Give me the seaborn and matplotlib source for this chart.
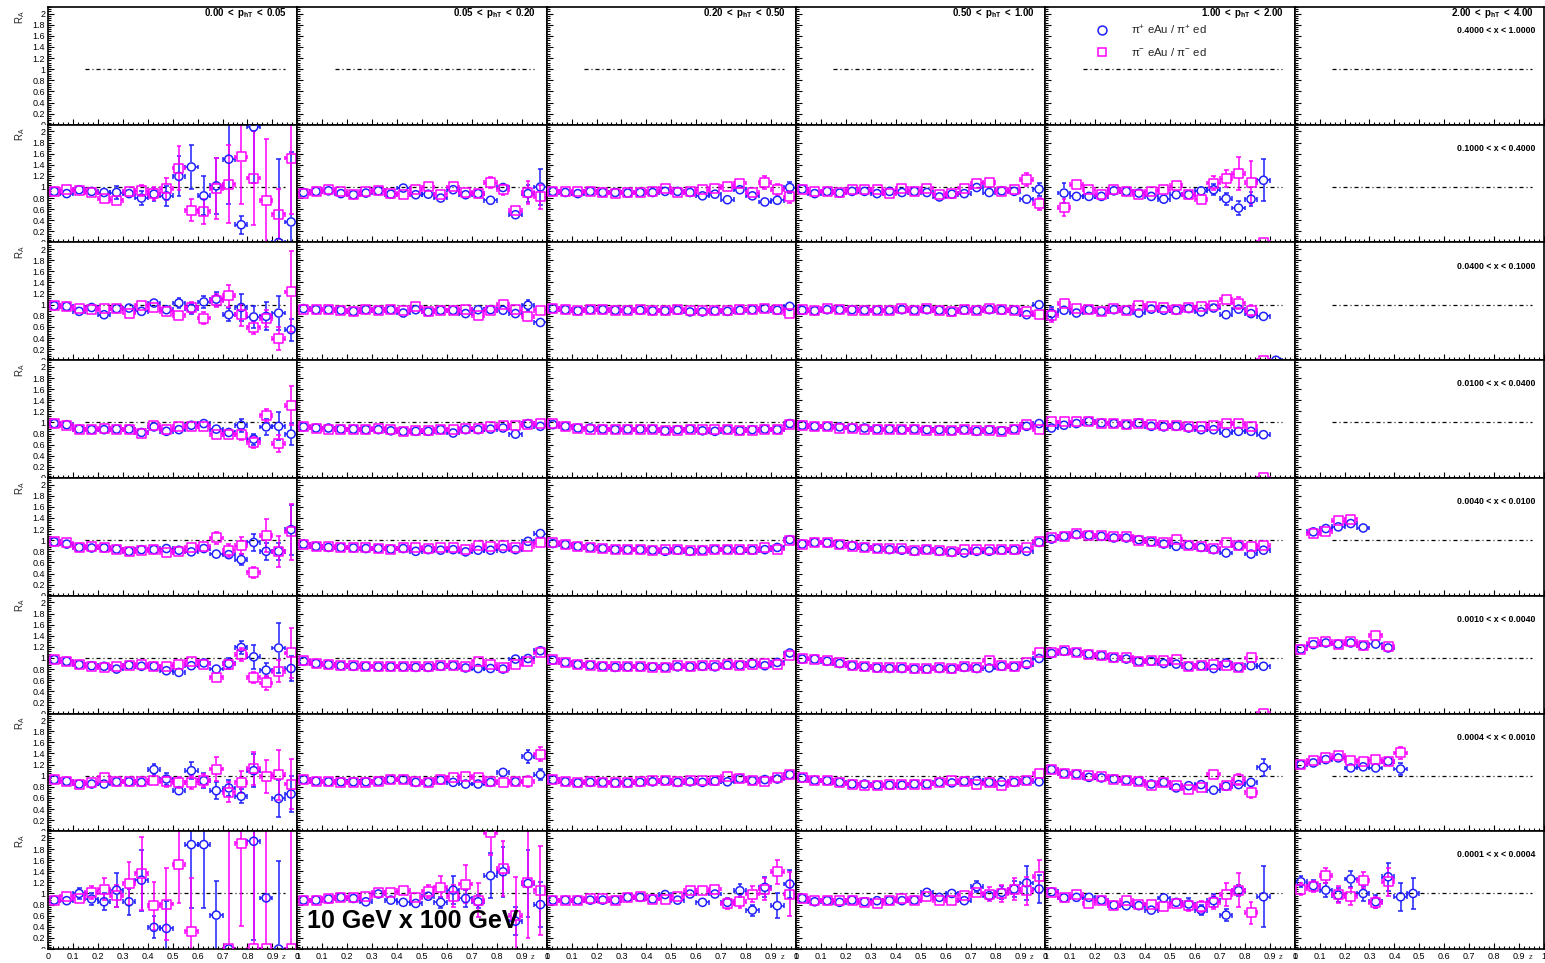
import numpy as np
import pandas as pd
import matplotlib
matplotlib.use("Agg")
import matplotlib.pyplot as plt
import seaborn as sns
from matplotlib.collections import LineCollection
from matplotlib.lines import Line2D
from matplotlib.ticker import MultipleLocator, AutoMinorLocator, FuncFormatter
from matplotlib.transforms import Bbox, TransformedBbox

nan = np.nan

# ---------------------------------------------------------------- binning
z_centers = [0.025, 0.075, 0.125, 0.175, 0.225, 0.275, 0.325, 0.375, 0.425, 0.475,
             0.525, 0.575, 0.625, 0.675, 0.725, 0.775, 0.825, 0.875, 0.925, 0.975]
z_half_width = 0.025

pt_bins = [r"$\mathbf{0.00\ <\ p_{hT}\ <\ 0.05}$", r"$\mathbf{0.05\ <\ p_{hT}\ <\ 0.20}$",
           r"$\mathbf{0.20\ <\ p_{hT}\ <\ 0.50}$", r"$\mathbf{0.50\ <\ p_{hT}\ <\ 1.00}$",
           r"$\mathbf{1.00\ <\ p_{hT}\ <\ 2.00}$", r"$\mathbf{2.00\ <\ p_{hT}\ <\ 4.00}$"]
x_bins = ["0.4000 < x < 1.0000", "0.1000 < x < 0.4000", "0.0400 < x < 0.1000",
          "0.0100 < x < 0.0400", "0.0040 < x < 0.0100", "0.0010 < x < 0.0040",
          "0.0004 < x < 0.0010", "0.0001 < x < 0.0004"]

series_labels = [r"π$^{+}$ eAu / π$^{+}$ ed", r"π$^{-}$ eAu / π$^{-}$ ed"]
beam_label = "10 GeV x 100 GeV"

# ---------------------------------------------------------------- R_A(z), x bin 2 (0.1 < x < 0.4)
pip_x2_pt1 = [0.92, 0.88, 0.95, 0.92, 0.90, 0.90, 0.88, 0.80, 0.87, 0.84, 1.19, 1.36, 0.84, 1.02, 1.50, 0.32, 2.08, nan, 0.00, 0.37]
pip_x2_pt1_err = [0.03, 0.03, 0.04, 0.04, 0.05, 0.12, 0.08, 0.12, 0.12, 0.18, 0.36, 0.40, 0.35, 0.50, 0.80, 0.16, 1.00, nan, 1.50, 1.26]
pim_x2_pt1 = [0.92, 0.95, 0.93, 0.90, 0.79, 0.76, 0.92, 0.93, 0.88, 0.97, 1.34, 0.58, 0.56, 0.97, 1.05, 1.54, 1.16, 0.76, 0.51, 1.52]
pim_x2_pt1_err = [0.03, 0.03, 0.03, 0.04, 0.05, 0.07, 0.06, 0.10, 0.12, 0.20, 0.40, 0.20, 0.22, 0.55, 0.70, 0.85, 0.85, 1.10, 0.45, 1.00]

pip_x2_pt2 = [0.90, 0.92, 0.93, 0.88, 0.86, 0.89, 0.93, 0.87, 0.98, 0.86, 0.87, 0.80, 0.95, 0.86, 0.88, 0.76, 0.99, 0.50, 0.88, 1.00]
pip_x2_pt2_err = [0.02, 0.02, 0.02, 0.02, 0.02, 0.03, 0.03, 0.03, 0.04, 0.04, 0.04, 0.05, 0.05, 0.05, 0.06, 0.06, 0.08, 0.05, 0.15, 0.33]
pim_x2_pt2 = [0.88, 0.92, 0.95, 0.92, 0.87, 0.92, 0.93, 0.88, 0.87, 0.95, 1.00, 0.87, 1.00, 0.90, 0.88, 1.08, 0.96, 0.57, 0.90, 0.82]
pim_x2_pt2_err = [0.02, 0.02, 0.02, 0.02, 0.02, 0.03, 0.03, 0.03, 0.04, 0.04, 0.04, 0.05, 0.05, 0.05, 0.06, 0.10, 0.10, 0.08, 0.20, 0.22]

pip_x2_pt3 = [0.92, 0.90, 0.88, 0.92, 0.90, 0.90, 0.89, 0.90, 0.90, 0.92, 0.92, 0.90, 0.84, 0.87, 0.77, 0.95, 0.84, 0.73, 0.76, 0.99]
pip_x2_pt3_err = [0.02, 0.02, 0.02, 0.02, 0.02, 0.02, 0.02, 0.02, 0.02, 0.03, 0.03, 0.03, 0.03, 0.04, 0.04, 0.04, 0.05, 0.05, 0.05, 0.10]
pim_x2_pt3 = [0.92, 0.92, 0.92, 0.92, 0.90, 0.89, 0.90, 0.90, 0.92, 0.98, 0.90, 0.92, 0.95, 0.98, 1.01, 1.07, 0.90, 1.08, 0.95, 0.82]
pim_x2_pt3_err = [0.02, 0.02, 0.02, 0.02, 0.02, 0.02, 0.02, 0.02, 0.02, 0.03, 0.03, 0.03, 0.03, 0.04, 0.04, 0.05, 0.05, 0.12, 0.11, 0.11]

pip_x2_pt4 = [0.96, 0.88, 0.92, 0.89, 0.92, 0.92, 0.88, 0.92, 0.90, 0.92, 0.90, 0.82, 0.87, 0.88, 0.99, 0.90, 0.93, 0.92, 0.78, 0.96]
pip_x2_pt4_err = [0.02, 0.02, 0.02, 0.02, 0.02, 0.02, 0.02, 0.02, 0.02, 0.03, 0.03, 0.03, 0.03, 0.04, 0.04, 0.04, 0.05, 0.05, 0.06, 0.12]
pim_x2_pt4 = [0.95, 0.92, 0.92, 0.90, 0.96, 0.95, 0.95, 0.88, 0.98, 0.92, 0.98, 0.87, 0.88, 0.98, 1.07, 1.08, 0.92, 0.95, 1.13, 0.70]
pim_x2_pt4_err = [0.02, 0.02, 0.02, 0.02, 0.02, 0.02, 0.02, 0.02, 0.02, 0.03, 0.03, 0.03, 0.03, 0.04, 0.04, 0.05, 0.05, 0.05, 0.12, 0.11]

pip_x2_pt5 = [nan, 0.89, 0.83, 0.83, 0.83, 0.93, 0.92, 0.89, 0.83, 0.78, 0.86, 0.86, 0.93, 0.95, 0.79, 0.62, 0.78, 1.12]
pip_x2_pt5_err = [nan, 0.18, 0.03, 0.03, 0.03, 0.03, 0.03, 0.03, 0.03, 0.03, 0.04, 0.04, 0.08, 0.10, 0.11, 0.12, 0.13, 0.38]
pim_x2_pt5 = [nan, 0.63, 1.04, 0.95, 0.87, 0.96, 0.92, 0.87, 0.92, 0.95, 1.02, 0.86, 0.78, 1.07, 1.15, 1.24, 1.08, 0.00]
pim_x2_pt5_err = [nan, 0.15, 0.05, 0.03, 0.03, 0.03, 0.03, 0.03, 0.03, 0.03, 0.04, 0.05, 0.08, 0.12, 0.15, 0.30, 0.38, 0.00]

# ---------------------------------------------------------------- x bin 3 (0.04 < x < 0.1)
pip_x3_pt1 = [0.98, 0.97, 0.88, 0.95, 0.82, 0.93, 0.94, 0.88, 1.03, 0.91, 1.03, 0.93, 1.05, 1.10, 0.82, 0.95, 0.78, 0.79, 0.85, 0.55]
pip_x3_pt1_err = [0.02, 0.02, 0.03, 0.03, 0.03, 0.03, 0.04, 0.04, 0.05, 0.05, 0.09, 0.09, 0.11, 0.12, 0.12, 0.25, 0.20, 0.25, 0.30, 0.20]
pim_x3_pt1 = [0.98, 0.96, 0.93, 0.91, 0.93, 0.93, 0.85, 0.99, 0.95, 0.88, 0.81, 0.95, 0.76, 1.08, 1.16, 0.82, 0.59, 0.75, 0.39, 1.23]
pim_x3_pt1_err = [0.02, 0.02, 0.03, 0.03, 0.03, 0.03, 0.04, 0.04, 0.05, 0.05, 0.05, 0.10, 0.10, 0.12, 0.20, 0.20, 0.12, 0.15, 0.20, 0.73]

pip_x3_pt2 = [0.93, 0.91, 0.91, 0.90, 0.88, 0.91, 0.90, 0.91, 0.85, 0.91, 0.87, 0.90, 0.90, 0.84, 0.91, 0.91, 0.90, 0.84, 0.99, 0.68]
pim_x3_pt2 = [0.92, 0.91, 0.91, 0.90, 0.88, 0.92, 0.90, 0.91, 0.90, 0.96, 0.87, 0.90, 0.90, 0.91, 0.81, 0.90, 1.00, 0.91, 0.79, 0.90]
pip_x3_pt2_err = [0.02, 0.02, 0.02, 0.02, 0.02, 0.02, 0.02, 0.02, 0.02, 0.02, 0.03, 0.03, 0.03, 0.03, 0.03, 0.04, 0.04, 0.05, 0.10, 0.05]

pip_x3_pt3 = [0.93, 0.91, 0.89, 0.91, 0.91, 0.90, 0.90, 0.90, 0.89, 0.89, 0.90, 0.87, 0.87, 0.89, 0.88, 0.90, 0.91, 0.93, 0.90, 0.97]
pim_x3_pt3 = [0.93, 0.91, 0.90, 0.91, 0.91, 0.90, 0.90, 0.91, 0.90, 0.90, 0.91, 0.89, 0.89, 0.90, 0.90, 0.91, 0.91, 0.93, 0.91, 0.84]

pip_x3_pt4 = [0.90, 0.89, 0.91, 0.91, 0.91, 0.90, 0.90, 0.90, 0.91, 0.90, 0.91, 0.90, 0.87, 0.90, 0.90, 0.91, 0.90, 0.90, 0.82, 1.00]
pim_x3_pt4 = [0.91, 0.89, 0.93, 0.91, 0.90, 0.90, 0.90, 0.90, 0.93, 0.90, 0.93, 0.89, 0.87, 0.91, 0.90, 0.93, 0.91, 0.90, 0.87, 0.82]

pip_x3_pt5 = [0.84, 0.90, 0.85, 0.91, 0.88, 0.91, 0.90, 0.85, 0.92, 0.90, 0.90, 0.93, 0.87, 0.94, 0.82, 0.92, 0.84, 0.79, 0.00]
pip_x3_pt5_err = [0.12, 0.03, 0.02, 0.02, 0.02, 0.02, 0.02, 0.02, 0.02, 0.02, 0.02, 0.03, 0.03, 0.03, 0.04, 0.04, 0.04, 0.05, 0.00]
pim_x3_pt5 = [0.81, 1.02, 0.93, 0.91, 0.87, 0.94, 0.90, 0.99, 0.96, 0.95, 0.91, 0.95, 0.96, 0.99, 1.10, 1.03, 0.90, 0.00]
pim_x3_pt5_err = [0.12, 0.03, 0.02, 0.02, 0.02, 0.02, 0.02, 0.02, 0.02, 0.02, 0.02, 0.03, 0.03, 0.03, 0.04, 0.10, 0.10, 0.00]

# ---------------------------------------------------------------- x bin 4 (0.01 < x < 0.04)
pip_x4_pt1 = [0.98, 0.96, 0.88, 0.87, 0.87, 0.88, 0.88, 0.82, 0.92, 0.84, 0.87, 0.95, 0.98, 0.88, 0.82, 0.95, 0.70, 0.92, 0.93, 0.79]
pip_x4_pt1_err = [0.02, 0.02, 0.02, 0.03, 0.03, 0.03, 0.03, 0.04, 0.04, 0.04, 0.04, 0.05, 0.05, 0.06, 0.07, 0.12, 0.10, 0.15, 0.25, 0.20]
pim_x4_pt1 = [0.99, 0.95, 0.88, 0.88, 0.90, 0.88, 0.87, 0.81, 0.95, 0.88, 0.93, 0.93, 0.93, 0.79, 0.79, 0.79, 0.64, 1.13, 0.62, 1.30]
pim_x4_pt1_err = [0.02, 0.02, 0.02, 0.03, 0.03, 0.03, 0.03, 0.04, 0.04, 0.04, 0.04, 0.05, 0.05, 0.06, 0.06, 0.10, 0.10, 0.12, 0.15, 0.35]

pip_x4_pt2 = [0.92, 0.90, 0.90, 0.88, 0.88, 0.87, 0.87, 0.85, 0.84, 0.84, 0.84, 0.87, 0.81, 0.87, 0.87, 0.88, 0.90, 0.79, 0.98, 0.93]
pim_x4_pt2 = [0.93, 0.90, 0.88, 0.88, 0.88, 0.88, 0.90, 0.88, 0.84, 0.85, 0.85, 0.87, 0.88, 0.90, 0.90, 0.93, 0.95, 0.95, 0.96, 0.98]

pip_x4_pt3 = [0.96, 0.93, 0.90, 0.90, 0.88, 0.87, 0.88, 0.88, 0.88, 0.85, 0.87, 0.88, 0.85, 0.84, 0.87, 0.85, 0.87, 0.88, 0.87, 0.98]
pim_x4_pt3 = [0.98, 0.93, 0.90, 0.88, 0.88, 0.87, 0.88, 0.88, 0.87, 0.85, 0.85, 0.87, 0.87, 0.87, 0.87, 0.85, 0.85, 0.87, 0.88, 0.96]

pip_x4_pt4 = [0.95, 0.93, 0.93, 0.92, 0.90, 0.90, 0.88, 0.88, 0.87, 0.88, 0.87, 0.87, 0.85, 0.87, 0.84, 0.87, 0.85, 0.88, 0.93, 0.98]
pim_x4_pt4 = [0.95, 0.93, 0.92, 0.90, 0.90, 0.88, 0.88, 0.87, 0.87, 0.88, 0.85, 0.85, 0.85, 0.87, 0.85, 0.85, 0.84, 0.87, 0.96, 0.87]

pip_x4_pt5 = [0.90, 0.95, 0.98, 1.02, 0.99, 0.98, 0.96, 0.99, 0.93, 0.92, 0.93, 0.90, 0.87, 0.87, 0.81, 0.84, 0.84, 0.78]
pim_x4_pt5 = [1.01, 1.01, 1.01, 1.01, 0.99, 0.98, 0.96, 0.99, 0.96, 0.95, 0.95, 0.92, 0.92, 0.95, 0.98, 0.98, 0.93, 0.00]

# ---------------------------------------------------------------- x bin 5 (0.004 < x < 0.01)
pip_x5_pt1 = [0.97, 0.93, 0.87, 0.86, 0.86, 0.84, 0.80, 0.83, 0.83, 0.85, 0.82, 0.79, 0.85, 0.75, 0.74, 0.65, 0.96, 0.80, 0.80, 1.19]
pip_x5_pt1_err = [0.02, 0.02, 0.02, 0.03, 0.03, 0.03, 0.03, 0.04, 0.04, 0.04, 0.04, 0.05, 0.05, 0.06, 0.08, 0.10, 0.15, 0.15, 0.15, 0.45]
pim_x5_pt1 = [0.98, 0.95, 0.87, 0.89, 0.87, 0.83, 0.80, 0.82, 0.83, 0.78, 0.80, 0.87, 0.89, 1.04, 0.82, 0.90, 0.42, 1.08, 0.80, 1.15]
pim_x5_pt1_err = [0.02, 0.02, 0.02, 0.03, 0.03, 0.03, 0.03, 0.04, 0.04, 0.04, 0.04, 0.05, 0.05, 0.11, 0.12, 0.15, 0.10, 0.30, 0.28, 0.50]

pip_x5_pt2 = [0.93, 0.89, 0.87, 0.87, 0.86, 0.85, 0.85, 0.84, 0.85, 0.80, 0.83, 0.82, 0.83, 0.79, 0.82, 0.82, 0.85, 0.83, 0.98, 1.12]
pim_x5_pt2 = [0.93, 0.89, 0.88, 0.87, 0.86, 0.86, 0.85, 0.84, 0.86, 0.87, 0.85, 0.86, 0.86, 0.83, 0.90, 0.89, 0.90, 0.86, 0.89, 0.95]

pip_x5_pt3 = [0.94, 0.92, 0.89, 0.87, 0.85, 0.83, 0.83, 0.83, 0.82, 0.80, 0.82, 0.80, 0.82, 0.83, 0.83, 0.82, 0.82, 0.83, 0.87, 1.01]
pim_x5_pt3 = [0.96, 0.93, 0.89, 0.87, 0.85, 0.83, 0.83, 0.83, 0.82, 0.84, 0.84, 0.82, 0.82, 0.83, 0.83, 0.84, 0.83, 0.86, 0.84, 1.00]

pip_x5_pt4 = [0.93, 0.96, 0.95, 0.92, 0.90, 0.87, 0.85, 0.83, 0.82, 0.80, 0.83, 0.80, 0.78, 0.77, 0.80, 0.80, 0.82, 0.82, 0.80, 0.96]
pim_x5_pt4 = [0.93, 0.96, 0.95, 0.92, 0.89, 0.87, 0.85, 0.85, 0.85, 0.82, 0.83, 0.82, 0.80, 0.84, 0.84, 0.84, 0.84, 0.84, 0.87, 0.98]

pip_x5_pt5 = [1.02, 1.07, 1.10, 1.09, 1.07, 1.04, 1.04, 1.01, 0.97, 0.93, 0.89, 0.91, 0.87, 0.83, 0.77, 0.90, 0.75, 0.82]
pim_x5_pt5 = [1.04, 1.07, 1.12, 1.09, 1.09, 1.07, 1.07, 0.99, 0.97, 0.96, 1.01, 0.91, 0.88, 0.85, 0.96, 0.91, 0.89, 0.90]

pip_x5_pt6 = [nan, 1.15, 1.21, 1.24, 1.30, 1.22]
pim_x5_pt6 = [nan, 1.12, 1.16, 1.35, 1.38]

# ---------------------------------------------------------------- x bin 6 (0.001 < x < 0.004)
pip_x6_pt1 = [0.97, 0.94, 0.88, 0.86, 0.85, 0.80, 0.87, 0.85, 0.85, 0.77, 0.74, 0.86, 0.91, 0.80, 0.90, 1.19, 1.02, 0.78, 1.18, 0.81]
pip_x6_pt1_err = [0.02, 0.02, 0.02, 0.03, 0.03, 0.03, 0.03, 0.04, 0.04, 0.04, 0.04, 0.05, 0.05, 0.06, 0.10, 0.12, 0.22, 0.13, 0.45, 0.22]
pim_x6_pt1 = [0.97, 0.94, 0.88, 0.85, 0.83, 0.85, 0.86, 0.89, 0.85, 0.85, 0.88, 0.94, 0.89, 0.65, 0.89, 1.06, 0.65, 0.55, 0.76, 1.09]
pim_x6_pt1_err = [0.02, 0.02, 0.02, 0.03, 0.03, 0.03, 0.03, 0.04, 0.04, 0.04, 0.04, 0.05, 0.05, 0.05, 0.07, 0.12, 0.10, 0.12, 0.20, 0.45]

pip_x6_pt2 = [0.94, 0.90, 0.88, 0.86, 0.85, 0.85, 0.84, 0.84, 0.84, 0.83, 0.83, 0.85, 0.86, 0.82, 0.81, 0.81, 0.80, 0.98, 0.99, 1.13]
pim_x6_pt2 = [0.95, 0.90, 0.88, 0.87, 0.86, 0.85, 0.85, 0.85, 0.85, 0.84, 0.85, 0.86, 0.86, 0.84, 0.94, 0.88, 0.83, 0.88, 0.94, 1.09]

pip_x6_pt3 = [0.96, 0.92, 0.88, 0.87, 0.85, 0.83, 0.84, 0.84, 0.84, 0.83, 0.84, 0.84, 0.85, 0.84, 0.87, 0.87, 0.90, 0.86, 0.92, 1.09]
pim_x6_pt3 = [0.98, 0.92, 0.88, 0.86, 0.85, 0.85, 0.84, 0.84, 0.83, 0.83, 0.86, 0.85, 0.86, 0.87, 0.89, 0.86, 0.88, 0.90, 0.89, 1.04]

pip_x6_pt4 = [0.98, 0.98, 0.94, 0.90, 0.86, 0.84, 0.82, 0.81, 0.81, 0.80, 0.80, 0.81, 0.80, 0.83, 0.81, 0.82, 0.85, 0.84, 0.88, 0.99]
pim_x6_pt4 = [0.99, 0.98, 0.95, 0.91, 0.87, 0.85, 0.83, 0.83, 0.83, 0.81, 0.81, 0.83, 0.81, 0.85, 0.83, 0.95, 0.86, 0.85, 0.91, 1.09]

pip_x6_pt5 = [1.08, 1.12, 1.10, 1.07, 1.04, 1.00, 0.98, 0.94, 0.94, 0.90, 0.89, 0.85, 0.86, 0.81, 0.91, 0.83, 0.86, 0.85]
pim_x6_pt5 = [1.09, 1.13, 1.10, 1.07, 1.04, 1.01, 1.01, 0.93, 0.95, 0.95, 0.98, 0.85, 0.87, 0.88, 0.86, 0.83, 1.00, 0.00]

pip_x6_pt6 = [1.16, 1.24, 1.27, 1.25, 1.27, 1.22, 1.25, 1.18]
pim_x6_pt6 = [1.16, 1.27, 1.29, 1.25, 1.29, 1.22, 1.41, 1.21]

# ---------------------------------------------------------------- x bin 7 (0.0004 < x < 0.001)
pip_x7_pt1 = [0.93, 0.90, 0.85, 0.85, 0.85, 0.89, 0.89, 0.88, 1.11, 0.94, 0.73, 1.09, 0.91, 0.73, 0.78, 0.63, 1.09, nan, 0.59, 0.67]
pip_x7_pt1_err = [0.02, 0.02, 0.03, 0.03, 0.03, 0.03, 0.03, 0.04, 0.10, 0.11, 0.06, 0.15, 0.13, 0.15, 0.15, 0.13, 0.30, nan, 0.33, 0.33]
pim_x7_pt1 = [0.93, 0.90, 0.85, 0.88, 0.97, 0.89, 0.89, 0.89, 0.91, 0.89, 0.88, 0.88, 0.91, 1.12, 0.70, 0.88, 1.13, 0.99, 1.02, 0.85]
pim_x7_pt1_err = [0.02, 0.02, 0.03, 0.03, 0.03, 0.03, 0.03, 0.04, 0.05, 0.10, 0.10, 0.12, 0.12, 0.22, 0.18, 0.20, 0.30, 0.30, 0.45, 0.45]

pip_x7_pt2 = [0.93, 0.90, 0.89, 0.89, 0.89, 0.89, 0.90, 0.93, 0.93, 0.88, 0.88, 0.92, 0.88, 0.85, 0.85, 0.88, 1.06, 0.89, 1.35, 1.02]
pip_x7_pt2_err = [0.02, 0.02, 0.02, 0.02, 0.02, 0.02, 0.02, 0.02, 0.02, 0.02, 0.03, 0.03, 0.03, 0.03, 0.04, 0.04, 0.05, 0.05, 0.12, 0.10]
pim_x7_pt2 = [0.93, 0.90, 0.89, 0.88, 0.88, 0.88, 0.90, 0.93, 0.93, 0.89, 0.88, 0.94, 0.97, 0.98, 0.97, 0.90, 0.88, 0.89, 0.90, 1.39]
pim_x7_pt2_err = [0.02, 0.02, 0.02, 0.02, 0.02, 0.02, 0.02, 0.02, 0.02, 0.02, 0.03, 0.03, 0.03, 0.03, 0.04, 0.04, 0.05, 0.05, 0.10, 0.12]

pip_x7_pt3 = [0.93, 0.89, 0.87, 0.88, 0.88, 0.87, 0.87, 0.88, 0.89, 0.91, 0.88, 0.89, 0.88, 0.90, 0.89, 0.95, 0.91, 0.93, 0.94, 1.02]
pim_x7_pt3 = [0.93, 0.89, 0.88, 0.89, 0.88, 0.88, 0.88, 0.89, 0.91, 0.91, 0.89, 0.91, 0.92, 0.92, 0.98, 0.95, 0.91, 0.90, 0.96, 1.03]

pip_x7_pt4 = [0.96, 0.92, 0.91, 0.88, 0.85, 0.85, 0.83, 0.83, 0.83, 0.85, 0.85, 0.88, 0.87, 0.90, 0.91, 0.88, 0.89, 0.88, 0.91, 0.89]
pim_x7_pt4 = [0.97, 0.91, 0.91, 0.87, 0.85, 0.83, 0.82, 0.85, 0.85, 0.85, 0.85, 0.87, 0.91, 0.89, 0.85, 0.87, 0.82, 0.89, 0.92, 1.04]

pip_x7_pt5 = [1.11, 1.04, 1.03, 0.97, 0.96, 0.94, 0.92, 0.90, 0.85, 0.88, 0.78, 0.82, 0.84, 0.74, 0.81, 0.84, 0.88, 1.15]
pip_x7_pt5_err = [0.02, 0.02, 0.02, 0.02, 0.02, 0.02, 0.02, 0.02, 0.02, 0.03, 0.03, 0.03, 0.03, 0.04, 0.04, 0.05, 0.05, 0.15]
pim_x7_pt5 = [1.11, 1.04, 1.03, 1.00, 0.98, 0.94, 0.91, 0.90, 0.83, 0.88, 0.82, 0.76, 0.79, 1.03, 0.82, 0.93, 0.70]
pim_x7_pt5_err = [0.02, 0.02, 0.02, 0.02, 0.02, 0.02, 0.02, 0.02, 0.02, 0.03, 0.03, 0.03, 0.03, 0.04, 0.04, 0.10, 0.10]

pip_x7_pt6 = [1.20, 1.23, 1.29, 1.32, 1.14, 1.16, 1.14, 1.26, 1.12]
pip_x7_pt6_err = [0.03, 0.03, 0.03, 0.03, 0.04, 0.04, 0.04, 0.05, 0.10]
pim_x7_pt6 = [1.21, 1.28, 1.32, 1.36, 1.27, 1.26, 1.29, 1.25, 1.41]
pim_x7_pt6_err = [0.03, 0.03, 0.03, 0.03, 0.04, 0.04, 0.04, 0.05, 0.11]

# ---------------------------------------------------------------- x bin 8 (0.0001 < x < 0.0004)
pip_x8_pt1 = [0.88, 0.87, 1.00, 0.90, 0.85, 1.06, 0.85, 1.24, 0.39, 0.37, nan, 1.88, 1.88, 0.61, 0.00, nan, 1.94, 0.92, 0.00, nan]
pip_x8_pt1_err = [0.03, 0.03, 0.10, 0.10, 0.15, 0.30, 0.23, 0.55, 0.20, 0.50, nan, 1.15, 1.15, 0.62, 0.02, nan, 1.77, 0.05, 1.59, nan]
pim_x8_pt1 = [0.88, 0.95, 0.91, 1.02, 1.08, 0.96, 1.18, 1.36, 0.78, 0.81, 1.52, 0.32, nan, nan, 0.00, 1.90, 0.00, 0.00, nan, 0.00]
pim_x8_pt1_err = [0.03, 0.04, 0.08, 0.12, 0.20, 0.20, 0.38, 0.65, 0.43, 0.65, 0.70, 0.95, nan, nan, 2.50, 1.49, 2.50, 2.50, nan, 2.50]

pip_x8_pt2 = [0.88, 0.88, 0.90, 0.93, 0.91, 0.85, 0.99, 0.88, 0.84, 0.82, 0.95, 0.84, 1.06, 0.91, 0.85, 1.32, 1.39, 0.50, 1.18, 0.80]
pip_x8_pt2_err = [0.02, 0.02, 0.02, 0.03, 0.03, 0.03, 0.04, 0.04, 0.05, 0.05, 0.08, 0.10, 0.25, 0.15, 0.12, 0.40, 0.45, 0.25, 0.60, 0.40]
pim_x8_pt2 = [0.88, 0.88, 0.91, 0.93, 0.93, 0.95, 1.02, 1.02, 1.05, 0.93, 1.04, 1.11, 0.95, 1.17, 0.88, 2.09, 1.45, 0.60, 1.20, 1.06]
pim_x8_pt2_err = [0.02, 0.02, 0.03, 0.03, 0.03, 0.04, 0.04, 0.05, 0.05, 0.06, 0.12, 0.20, 0.20, 0.35, 0.30, 0.40, 0.50, 0.70, 1.00, 0.80]

pip_x8_pt3 = [0.88, 0.88, 0.88, 0.88, 0.88, 0.88, 0.93, 0.93, 0.90, 0.98, 0.88, 0.99, 0.84, 0.99, 0.84, 1.05, 0.70, 1.11, 0.78, 1.17]
pip_x8_pt3_err = [0.02, 0.02, 0.02, 0.02, 0.02, 0.02, 0.03, 0.03, 0.03, 0.04, 0.04, 0.04, 0.05, 0.05, 0.06, 0.12, 0.10, 0.18, 0.22, 0.25]
pim_x8_pt3 = [0.88, 0.88, 0.88, 0.91, 0.91, 0.88, 0.93, 0.94, 0.90, 0.90, 0.95, 1.05, 1.05, 1.08, 0.82, 0.85, 0.99, 1.08, 1.39, 0.99]
pim_x8_pt3_err = [0.02, 0.02, 0.02, 0.02, 0.02, 0.02, 0.03, 0.03, 0.03, 0.04, 0.05, 0.05, 0.05, 0.05, 0.10, 0.12, 0.15, 0.20, 0.22, 0.40]

pip_x8_pt4 = [0.91, 0.85, 0.87, 0.84, 0.88, 0.85, 0.87, 0.87, 0.87, 0.88, 1.02, 0.93, 1.00, 0.87, 1.12, 0.96, 1.02, 1.08, 1.19, 1.08]
pip_x8_pt4_err = [0.02, 0.02, 0.02, 0.02, 0.02, 0.03, 0.03, 0.03, 0.03, 0.04, 0.04, 0.04, 0.05, 0.05, 0.10, 0.08, 0.12, 0.15, 0.30, 0.25]
pim_x8_pt4 = [0.91, 0.88, 0.88, 0.87, 0.87, 0.84, 0.82, 0.88, 0.91, 0.88, 0.95, 0.88, 0.87, 0.97, 1.01, 0.99, 1.00, 1.08, 1.05, 1.30]
pim_x8_pt4_err = [0.02, 0.02, 0.02, 0.02, 0.02, 0.03, 0.03, 0.03, 0.03, 0.04, 0.04, 0.05, 0.05, 0.06, 0.08, 0.12, 0.15, 0.20, 0.25, 0.30]

pip_x8_pt5 = [1.03, 0.92, 0.93, 0.93, 0.88, 0.79, 0.78, 0.78, 0.70, 0.92, 0.84, 0.81, 0.70, 0.87, 0.61, 1.05, nan, 0.94]
pip_x8_pt5_err = [0.04, 0.03, 0.03, 0.03, 0.03, 0.03, 0.03, 0.03, 0.03, 0.04, 0.05, 0.10, 0.09, 0.12, 0.11, 0.10, nan, 0.55]
pim_x8_pt5 = [1.02, 0.93, 0.98, 0.82, 0.88, 0.78, 0.87, 0.81, 0.81, 0.76, 0.82, 0.78, 0.76, 0.84, 0.98, 1.06, 0.65]
pim_x8_pt5_err = [0.04, 0.03, 0.03, 0.03, 0.03, 0.03, 0.03, 0.03, 0.03, 0.04, 0.05, 0.09, 0.10, 0.12, 0.20, 0.30, 0.20]

pip_x8_pt6 = [1.21, 1.14, 1.06, 0.97, 1.26, 1.00, 0.85, 1.30, 0.94, 1.00]
pip_x8_pt6_err = [0.10, 0.10, 0.12, 0.12, 0.14, 0.13, 0.12, 0.25, 0.25, 0.28]
pim_x8_pt6 = [1.08, 1.13, 1.32, 0.98, 0.95, 1.24, 0.84, 1.21]
pim_x8_pt6_err = [0.10, 0.10, 0.13, 0.15, 0.15, 0.15, 0.10, 0.25]

# ---------------------------------------------------------------- panel table (row = x bin, col = pT bin)
g = globals()
panels = {}
for r in range(1, 9):
    for c in range(1, 7):
        key = f"x{r}_pt{c}"
        if f"pip_{key}" in g:
            panels[(r - 1, c - 1)] = (g[f"pip_{key}"], g.get(f"pip_{key}_err"),
                                      g[f"pim_{key}"], g.get(f"pim_{key}_err"))

# ---------------------------------------------------------------- style
sns.set_theme(style="white")
plt.rcParams["font.family"] = ["Liberation Sans", "DejaVu Sans"]
plt.rcParams["mathtext.fontset"] = "custom"
plt.rcParams["mathtext.rm"] = "Liberation Sans"
plt.rcParams["mathtext.it"] = "Liberation Sans:italic"
plt.rcParams["mathtext.bf"] = "Liberation Sans:bold"

PIP_COLOR = "#1f1fff"
PIM_COLOR = "#ff00ff"
Y_MAX = 2.12
STAT_ERR = 0.02
W_PX, H_PX = 1545, 963
LEFT_PX, TOP_PX, BOTTOM_PX, RIGHT_PX = 48, 7, 949, 1544

fig = plt.figure(figsize=(W_PX / 100, H_PX / 100), dpi=100)
fig.patch.set_facecolor("white")
gs = fig.add_gridspec(8, 6, left=LEFT_PX / W_PX, right=RIGHT_PX / W_PX,
                      top=1 - TOP_PX / H_PX, bottom=1 - BOTTOM_PX / H_PX,
                      wspace=0, hspace=0)

panel_w_px = (RIGHT_PX - LEFT_PX) / 6
panel_h_px = (BOTTOM_PX - TOP_PX) / 8
marker_r_px = 4.6
cap_px = 2.4
rx = marker_r_px / panel_w_px
ry = marker_r_px / panel_h_px * Y_MAX
cx = cap_px / panel_w_px
cy = cap_px / panel_h_px * Y_MAX


def draw_series(ax, values, errors, color, marker, size):
    n = len(values)
    errs = errors if errors is not None else [STAT_ERR] * n
    frame = pd.DataFrame({"z": z_centers[:n], "RA": values, "err": errs}).dropna(subset=["RA"])
    segs = []
    for z, v, e in frame.itertuples(index=False):
        segs += [[(z - z_half_width, v), (z - rx, v)], [(z + rx, v), (z + z_half_width, v)],
                 [(z - z_half_width, v - cy), (z - z_half_width, v + cy)],
                 [(z + z_half_width, v - cy), (z + z_half_width, v + cy)]]
        if e > ry:
            segs += [[(z, v + ry), (z, v + e)], [(z, v - ry), (z, v - e)],
                     [(z - cx, v + e), (z + cx, v + e)], [(z - cx, v - e), (z + cx, v - e)]]
    ax.add_collection(LineCollection(segs, colors=color, linewidths=1.1, zorder=2))
    sns.scatterplot(data=frame, x="z", y="RA", marker=marker, s=size, facecolor="none",
                    edgecolor=color, linewidth=1.1, ax=ax, legend=False, zorder=3)


fmt = FuncFormatter(lambda v, p: f"{v:g}")
axes = [[fig.add_subplot(gs[r, c]) for c in range(6)] for r in range(8)]

for r in range(8):
    for c in range(6):
        ax = axes[r][c]
        ax.set_facecolor("white")
        if (r, c) in panels:
            pip, pip_err, pim, pim_err = panels[(r, c)]
            draw_series(ax, pip, pip_err, PIP_COLOR, "o", 34)
            draw_series(ax, pim, pim_err, PIM_COLOR, "s", 42)
        ax.hlines(1.0, 0.15, 0.95, colors="black", linewidth=0.9,
                  linestyles=(0, (3.2, 2.4, 0.8, 2.4)), zorder=1)
        ax.set_xlim(0, 1)
        ax.set_ylim(0, Y_MAX)
        ax.set_xlabel("")
        ax.set_ylabel("")
        for s in ax.spines.values():
            s.set_color("black")
            s.set_linewidth(1.2)
        ax.xaxis.set_major_locator(MultipleLocator(0.1))
        ax.xaxis.set_minor_locator(AutoMinorLocator(5))
        ax.yaxis.set_major_locator(MultipleLocator(0.2))
        ax.yaxis.set_minor_locator(AutoMinorLocator(5))
        ax.xaxis.set_major_formatter(fmt)
        ax.yaxis.set_major_formatter(fmt)
        ax.tick_params(which="both", direction="in", top=False, right=False,
                       bottom=True, left=True, width=0.8, colors="black",
                       labelsize=6.5, pad=2)
        ax.tick_params(which="major", length=4.0)
        ax.tick_params(which="minor", length=2.0)
        ax.tick_params(axis="x", labelbottom=(r == 7))
        ax.tick_params(axis="y", labelleft=(c == 0))
        if c == 0:
            ax.set_ylabel(r"R$_{\mathregular{A}}$", fontsize=7, rotation=90,
                          ha="right", va="center")
            ax.yaxis.set_label_coords(-0.112, 0.975)
            pos = ax.get_position()
            clip = TransformedBbox(Bbox.from_extents(0, pos.y0, pos.x1, pos.y1), fig.transFigure)
            for t in ax.yaxis.get_major_ticks():
                t.label1.set_clip_box(clip)
                t.label1.set_clip_on(True)
        if r == 7:
            ax.set_xlabel("z", fontsize=5.5, va="top")
            ax.xaxis.set_label_coords(0.945, -0.045)
        if r == 0:
            ax.text(0.958, 0.925, pt_bins[c], transform=ax.transAxes, ha="right",
                    va="baseline", fontsize=7.0, color="black")
        if c == 5:
            ax.text(0.966, 0.80, x_bins[r], transform=ax.transAxes, ha="right",
                    va="center", fontsize=6.3, fontweight="bold", color="black")

# legend in the top row
handles = [Line2D([], [], marker="o", linestyle="none", markersize=6.4,
                  markerfacecolor="none", markeredgecolor=PIP_COLOR, markeredgewidth=1.1),
           Line2D([], [], marker="s", linestyle="none", markersize=6.4,
                  markerfacecolor="none", markeredgecolor=PIM_COLOR, markeredgewidth=1.1)]
axes[0][4].legend(handles, series_labels, loc="upper left", bbox_to_anchor=(0.20, 0.86),
                  frameon=False, fontsize=8.2, handlelength=1.2, handletextpad=1.9,
                  labelspacing=0.85, borderpad=0, borderaxespad=0)

axes[7][1].text(0.04, 0.18, beam_label, transform=axes[7][1].transAxes, ha="left",
                va="baseline", fontsize=18, fontweight="bold", color="black", zorder=6)

fig.savefig("out.png", dpi=100, facecolor="white")
